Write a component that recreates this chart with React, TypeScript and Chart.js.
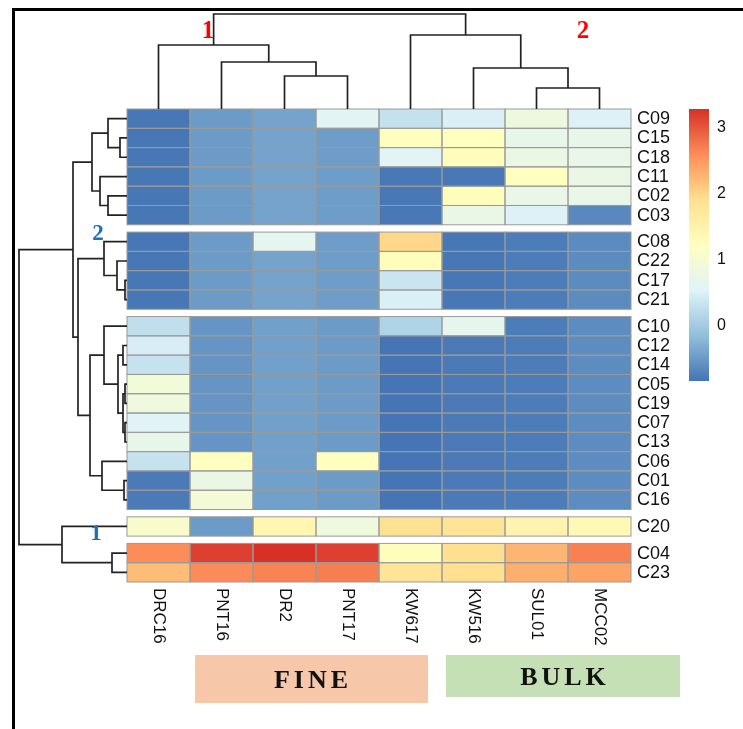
import React, { useEffect, useRef } from "react";
import { Chart, registerables } from "chart.js";

Chart.register(...registerables);

// ---------- data ----------
const columns = ["DRC16", "PNT16", "DR2", "PNT17", "KW617", "KW516", "SUL01", "MCC02"];
const rows = [
  "C09", "C15", "C18", "C11", "C02", "C03",
  "C08", "C22", "C17", "C21",
  "C10", "C12", "C14", "C05", "C19", "C07", "C13", "C06", "C01", "C16",
  "C20",
  "C04", "C23",
];
const rowBlock = [0, 0, 0, 0, 0, 0, 1, 1, 1, 1, 2, 2, 2, 2, 2, 2, 2, 2, 2, 2, 3, 4, 4];

// values per column, in row order above
const DRC16 = [-0.83, -0.83, -0.83, -0.83, -0.83, -0.83, -0.83, -0.83, -0.83, -0.83, 0.25, 0.45, 0.3, 0.9, 0.85, 0.55, 0.7, 0.3, -0.8, -0.8, 1.05, 2.58, 2.19];
const PNT16 = [-0.5, -0.5, -0.5, -0.5, -0.5, -0.5, -0.5, -0.5, -0.5, -0.5, -0.55, -0.55, -0.55, -0.55, -0.55, -0.55, -0.55, 1.2, 0.75, 0.95, -0.5, 3.15, 2.6];
const DR2 = [-0.42, -0.42, -0.42, -0.42, -0.42, -0.42, 0.63, -0.42, -0.42, -0.42, -0.45, -0.45, -0.45, -0.45, -0.45, -0.45, -0.45, -0.45, -0.45, -0.45, 1.4, 3.27, 2.65];
const PNT17 = [0.57, -0.48, -0.48, -0.48, -0.48, -0.48, -0.48, -0.48, -0.48, -0.48, -0.5, -0.5, -0.5, -0.5, -0.5, -0.5, -0.5, 1.2, -0.5, -0.5, 0.85, 3.15, 2.69];
const KW617 = [0.28, 1.2, 0.56, -0.82, -0.82, -0.82, 1.97, 1.25, 0.33, 0.48, 0.11, -0.85, -0.85, -0.85, -0.85, -0.85, -0.85, -0.85, -0.85, -0.85, 1.85, 1.25, 1.8];
const KW516 = [0.48, 1.2, 1.25, -0.82, 1.25, 0.74, -0.83, -0.83, -0.83, -0.83, 0.65, -0.8, -0.8, -0.8, -0.8, -0.8, -0.8, -0.8, -0.8, -0.8, 1.8, 1.9, 1.9];
const SUL01 = [0.83, 0.7, 0.75, 1.2, 0.72, 0.5, -0.78, -0.78, -0.78, -0.78, -0.78, -0.78, -0.78, -0.78, -0.78, -0.78, -0.78, -0.78, -0.78, -0.78, 1.45, 2.25, 2.3];
const MCC02 = [0.5, 0.7, 0.72, 0.75, 0.74, -0.67, -0.65, -0.65, -0.65, -0.65, -0.64, -0.64, -0.64, -0.64, -0.64, -0.64, -0.64, -0.64, -0.64, -0.64, 1.35, 2.67, 2.4];
const columnValues = [DRC16, PNT16, DR2, PNT17, KW617, KW516, SUL01, MCC02];

const colorTicks = [0, 1, 2, 3];
const colorMin = -0.85;
const colorMax = 3.27;
const paletteStops = ["#4575B4", "#91BFDB", "#E0F3F8", "#FFFFBF", "#FEE090", "#FC8D59", "#D73027"];

// dendrograms (leaf = index, node = {h, c})
type Node = number | { h: number; c: [Node, Node] };
const colTree: Node = {
  h: 9.5,
  c: [
    { h: 6.4, c: [0, { h: 4.7, c: [1, { h: 3.3, c: [2, 3] }] }] },
    { h: 7.4, c: [4, { h: 4.1, c: [5, { h: 2.1, c: [6, 7] }] }] },
  ],
};
const rowTree: Node = {
  h: 10.8,
  c: [
    {
      h: 5.4,
      c: [
        {
          h: 3.5,
          c: [
            { h: 1.9, c: [0, { h: 0.7, c: [1, 2] }] },
            { h: 2.7, c: [3, { h: 1.9, c: [4, 5] }] },
          ],
        },
        {
          h: 4.9,
          c: [
            { h: 2.3, c: [6, { h: 1.0, c: [7, { h: 0.2, c: [8, 9] }] }] },
            {
              h: 3.7,
              c: [
                {
                  h: 2.3,
                  c: [
                    10,
                    {
                      h: 0.9,
                      c: [
                        { h: 0.4, c: [11, 12] },
                        { h: 0.4, c: [{ h: 0.2, c: [13, 14] }, { h: 0.2, c: [15, 16] }] },
                      ],
                    },
                  ],
                },
                { h: 2.5, c: [17, { h: 0.3, c: [18, 19] }] },
              ],
            },
          ],
        },
      ],
    },
    { h: 6.5, c: [20, { h: 1.5, c: [21, 22] }] },
  ],
};

const colGroupLabels = ["1", "2"];
const rowGroupLabels = ["2", "1"];
const annotations = ["FINE", "BULK"];

// ---------- helpers ----------
const GAP = 0.378;
const rowStart = rows.map((_, i) => i + rowBlock[i] * GAP);
const totalUnits = rows.length + rowBlock[rowBlock.length - 1] * GAP;

function hexToRgb(h: string) {
  const n = parseInt(h.slice(1), 16);
  return [(n >> 16) & 255, (n >> 8) & 255, n & 255];
}
const stopsRgb = paletteStops.map(hexToRgb);
function colorFor(v: number) {
  let t = (v - colorMin) / (colorMax - colorMin);
  t = Math.max(0, Math.min(1, t));
  const seg = t * (stopsRgb.length - 1);
  const i = Math.min(stopsRgb.length - 2, Math.floor(seg));
  const f = seg - i;
  const a = stopsRgb[i];
  const b = stopsRgb[i + 1];
  const c = a.map((x, k) => Math.round(x + (b[k] - x) * f));
  return `rgb(${c[0]},${c[1]},${c[2]})`;
}

const SANS = '"Liberation Sans", Arial, sans-serif';
const SERIF = '"Liberation Serif", "Times New Roman", serif';

const heatmapPlugin = {
  id: "heatmapPlugin",
  afterDraw(chart: any) {
    const ctx: CanvasRenderingContext2D = chart.ctx;
    const xs = chart.scales.x;
    const ys = chart.scales.y;
    const area = chart.chartArea;
    ctx.save();

    // frame
    ctx.strokeStyle = "#000";
    ctx.lineWidth = 3;
    ctx.beginPath();
    ctx.moveTo(13.5, chart.height);
    ctx.lineTo(13.5, 9.5);
    ctx.lineTo(chart.width, 9.5);
    ctx.stroke();

    // cells
    for (let c = 0; c < columns.length; c++) {
      const x0 = xs.getPixelForValue(c);
      const x1 = xs.getPixelForValue(c + 1);
      for (let r = 0; r < rows.length; r++) {
        const y0 = ys.getPixelForValue(rowStart[r]);
        const y1 = ys.getPixelForValue(rowStart[r] + 1);
        ctx.fillStyle = colorFor(columnValues[c][r]);
        ctx.fillRect(x0, y0, x1 - x0, y1 - y0);
      }
    }
    ctx.strokeStyle = "#9a9a9a";
    ctx.lineWidth = 1;
    for (let c = 0; c < columns.length; c++) {
      const x0 = xs.getPixelForValue(c);
      const x1 = xs.getPixelForValue(c + 1);
      for (let r = 0; r < rows.length; r++) {
        const y0 = ys.getPixelForValue(rowStart[r]);
        const y1 = ys.getPixelForValue(rowStart[r] + 1);
        ctx.strokeRect(x0, y0, x1 - x0, y1 - y0);
      }
    }

    // row labels
    ctx.fillStyle = "#111";
    ctx.font = `18px ${SANS}`;
    ctx.textAlign = "left";
    ctx.textBaseline = "middle";
    rows.forEach((lab, r) => {
      const y = ys.getPixelForValue(rowStart[r] + 0.5);
      ctx.fillText(lab, area.right + 6, y + 0.5);
    });

    // column labels (rotated, reading downward)
    ctx.font = `17px ${SANS}`;
    columns.forEach((lab, c) => {
      const x = xs.getPixelForValue(c + 0.5);
      ctx.save();
      ctx.translate(x, area.bottom + 6);
      ctx.rotate(Math.PI / 2);
      ctx.textAlign = "left";
      ctx.textBaseline = "middle";
      ctx.fillText(lab, 0, 0);
      ctx.restore();
    });

    // dendrograms
    ctx.strokeStyle = "#222";
    ctx.lineWidth = 1.7;
    const drawTree = (
      node: Node,
      leafPos: (i: number) => number,
      pt: (pos: number, h: number) => [number, number]
    ): { pos: number; h: number } => {
      if (typeof node === "number") return { pos: leafPos(node), h: 0 };
      const a = drawTree(node.c[0], leafPos, pt);
      const b = drawTree(node.c[1], leafPos, pt);
      ctx.beginPath();
      let p = pt(a.pos, a.h);
      ctx.moveTo(p[0], p[1]);
      p = pt(a.pos, node.h);
      ctx.lineTo(p[0], p[1]);
      p = pt(b.pos, node.h);
      ctx.lineTo(p[0], p[1]);
      p = pt(b.pos, b.h);
      ctx.lineTo(p[0], p[1]);
      ctx.stroke();
      return { pos: (a.pos + b.pos) / 2, h: node.h };
    };
    const topK = (area.top - 14) / (colTree as any).h;
    drawTree(
      colTree,
      (i) => xs.getPixelForValue(i + 0.5),
      (pos, h) => [pos, area.top - h * topK]
    );
    const leftK = (area.left - 19) / (rowTree as any).h;
    drawTree(
      rowTree,
      (i) => ys.getPixelForValue(rowStart[i] + 0.5),
      (pos, h) => [area.left - h * leftK, pos]
    );

    // cluster labels
    ctx.font = `bold 25px ${SERIF}`;
    ctx.textAlign = "center";
    ctx.textBaseline = "middle";
    ctx.fillStyle = "#ff0000";
    ctx.fillText(colGroupLabels[0], 208, 32);
    ctx.fillText(colGroupLabels[1], 583, 32);
    ctx.fillStyle = "#1b6fc0";
    ctx.font = `bold 23px ${SERIF}`;
    ctx.fillText(rowGroupLabels[0], 98, 234);
    ctx.fillText(rowGroupLabels[1], 96, 534);

    // colour bar
    const cbL = 689, cbR = 709, cbT = 109, cbB = 381;
    const valToY = (v: number) => cbB - ((v - colorMin) / (colorMax - colorMin)) * (cbB - cbT);
    const grad = ctx.createLinearGradient(0, cbB, 0, cbT);
    paletteStops.forEach((s, i) => grad.addColorStop(i / (paletteStops.length - 1), s));
    ctx.fillStyle = grad;
    ctx.fillRect(cbL, cbT, cbR - cbL, cbB - cbT);
    ctx.fillStyle = "#111";
    ctx.font = `16px ${SANS}`;
    ctx.textAlign = "left";
    ctx.textBaseline = "middle";
    colorTicks.forEach((t) => ctx.fillText(String(t), 717, valToY(t) + 1));

    // FINE / BULK boxes
    ctx.fillStyle = "#f6c8a9";
    ctx.fillRect(195, 655, 233, 48);
    ctx.fillStyle = "#c5e0b4";
    ctx.fillRect(446, 655, 234, 42);
    ctx.fillStyle = "#111";
    ctx.font = `bold 26px ${SERIF}`;
    (ctx as any).letterSpacing = "4px";
    ctx.textAlign = "center";
    ctx.textBaseline = "middle";
    ctx.fillText(annotations[0], 313, 681);
    ctx.fillText(annotations[1], 565, 678);
    (ctx as any).letterSpacing = "0px";

    ctx.restore();
  },
};

export default function App() {
  const ref = useRef<HTMLCanvasElement | null>(null);
  useEffect(() => {
    if (!ref.current) return;
    const chart = new Chart(ref.current, {
      type: "scatter",
      data: { datasets: [{ data: [], showLine: false }] },
      options: {
        responsive: false,
        animation: false,
        devicePixelRatio: 1,
        layout: { padding: { left: 127, top: 109, right: 112, bottom: 147 } },
        scales: {
          x: { type: "linear", min: 0, max: columns.length, display: false },
          y: { type: "linear", min: 0, max: totalUnits, reverse: true, display: false },
        },
        plugins: { legend: { display: false }, tooltip: { enabled: false } },
      },
      plugins: [heatmapPlugin],
    });
    return () => chart.destroy();
  }, []);
  return (
    <div style={{ position: "absolute", left: 0, top: 0, width: 743, height: 729, background: "#fff" }}>
      <canvas ref={ref} width={743} height={729} style={{ display: "block", width: 743, height: 729 }} />
    </div>
  );
}
